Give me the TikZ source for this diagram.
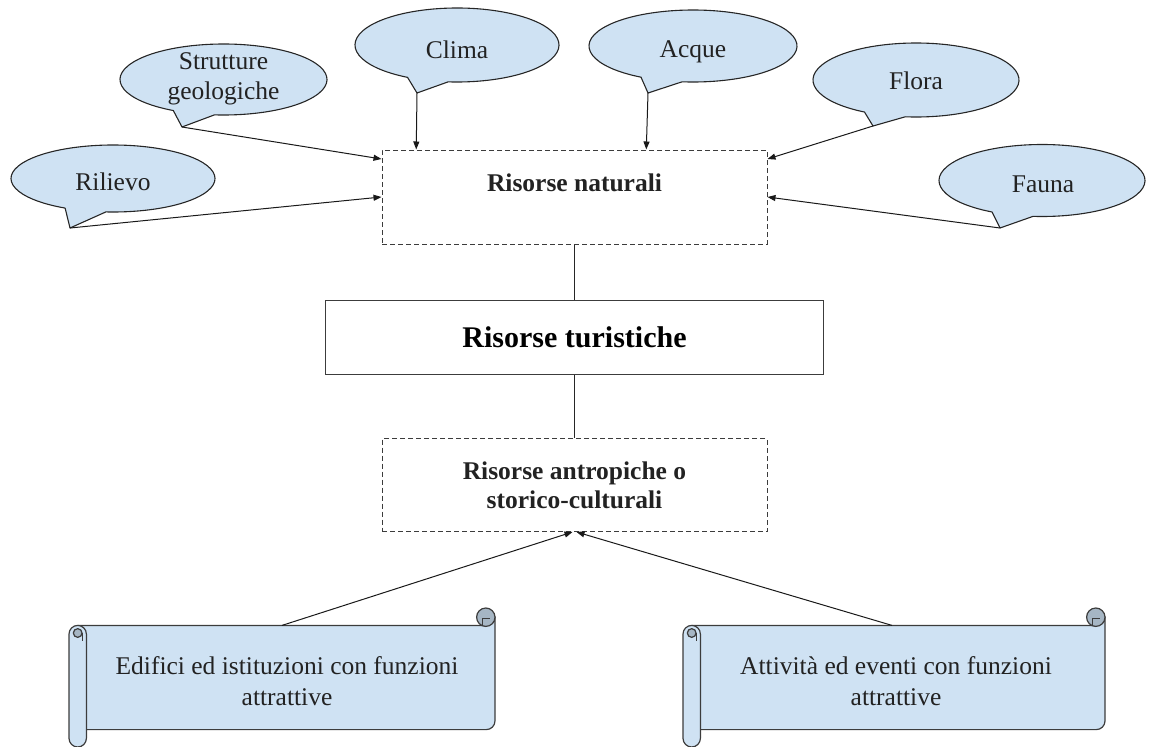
\documentclass[tikz,border=0pt]{standalone}
\usepackage{fontspec}
\setmainfont{Liberation Serif}
\usetikzlibrary{arrows.meta,calc}
\definecolor{calloutfill}{HTML}{CFE2F3}
\definecolor{rollfill}{HTML}{A6B6C4}
\definecolor{edge}{HTML}{3C3C3C}
\definecolor{ink}{HTML}{222222}

% speech bubble: centre x, centre y, x radius, y radius, pointer direction, tip coordinate
\newcommand\speechbubble[6]{%
  \filldraw[callout] (#1,#2) ++({#5+12}:#3 and #4)
    arc[start angle={#5+12}, end angle={#5+348}, x radius=#3, y radius=#4]
    -- (#6) -- cycle;}

% horizontal scroll: left, top, right, bottom
\newcommand\scrollshape[4]{%
  \filldraw[scrollbody] ({#1+8.7},{#2+17.4}) -- ({#3-8.7},{#2+17.4})
    arc[start angle=90, end angle=0, radius=8.7] -- (#3,{#4-26.1})
    arc[start angle=0, end angle=90, radius=8.7] -- ({#1+8.7},{#4-17.4}) -- cycle;
  \filldraw[scrollroll] ({#3-9.2},{#2+9.2}) circle[radius=9.2];
  \draw[draw=edge, line width=1pt] ({#3-12.5},{#2+17.4}) -- ({#3-12.5},{#2+10.5}) -- ({#3-5},{#2+10.5});
  \filldraw[scrollbody] (#1,{#2+26.1}) arc[start angle=180, end angle=360, radius=8.7]
    -- ({#1+17.4},{#4-8.7}) arc[start angle=0, end angle=180, radius=8.7] -- cycle;
  \filldraw[scrollroll] ({#1+8.7},{#2+25}) circle[radius=4.35];
  \draw[draw=edge, line width=1pt] ({#1+13},{#2+25}) -- ({#1+13},{#2+33});}

\begin{document}
\begin{tikzpicture}[x=1pt, y=-1pt,
  callout/.style={fill=calloutfill, draw=black!85, line width=1.1pt, line join=round},
  ctext/.style={text=ink, font=\fontsize{25.5}{30.5}\selectfont, align=center, inner sep=0pt},
  btext/.style={text=ink, font=\bfseries\fontsize{25.5}{29}\selectfont, align=center},
  dbox/.style={draw=edge, dash pattern=on 5pt off 3pt, line width=1pt,
    minimum width=385pt, inner sep=0pt},
  arr/.style={draw=black!90, line width=1pt, -{Triangle[length=8pt, width=6pt]}},
  link/.style={draw=black!85, line width=1pt},
  scrollbody/.style={fill=calloutfill, draw=edge, line width=1.2pt, line join=round},
  scrollroll/.style={fill=rollfill, draw=edge, line width=1.2pt}
]
\useasboundingbox (0,0) rectangle (1149,747);

% central boxes
\node[dbox, minimum height=94pt] (nat) at (574.5,197) {};
\node[btext, inner sep=0pt] (natlabel) at (574.5,183) {Risorse naturali};
\node[draw=edge, line width=1pt, minimum width=498pt, minimum height=74pt, inner sep=0pt,
  text=black, font=\bfseries\fontsize{30}{36}\selectfont] (tur) at (574.5,337) {Risorse turistiche};
\node[dbox, btext, minimum height=93pt] (ant) at (574.5,485) {Risorse antropiche o\\storico-culturali};

\draw[link] (nat.south) -- (tur.north);
\draw[link] (tur.south) -- (ant.north);

% natural resources as speech bubbles
\coordinate (rilievo-tip) at (70,228);
\coordinate (strutture-tip) at (182,127);
\coordinate (clima-tip) at (417,93);
\coordinate (acque-tip) at (648,93);
\coordinate (flora-tip) at (873,126);
\coordinate (fauna-tip) at (1000,228);

\speechbubble{113}{178.5}{102}{33.5}{106}{rilievo-tip}
\speechbubble{223.5}{79.5}{103.5}{35.5}{107}{strutture-tip}
\speechbubble{457}{45}{102}{37}{107}{clima-tip}
\speechbubble{693}{46}{104}{36}{108}{acque-tip}
\speechbubble{916}{80}{103}{37}{108}{flora-tip}
\speechbubble{1042}{180.5}{103}{36}{107}{fauna-tip}

\node[ctext] (rilievo) at (113,182) {Rilievo};
\node[ctext] (strutture) at (223.5,79) {Strutture\\geologiche};
\node[ctext] (clima) at (457,50) {Clima};
\node[ctext] (acque) at (693,52) {Acque};
\node[ctext] (flora) at (916,81) {Flora};
\node[ctext] (fauna) at (1043,184) {Fauna};

\draw[arr] (rilievo-tip) -- (nat.west);
\draw[arr] (strutture-tip) -- ($(nat.north west)!0.1!(nat.south west)$);
\draw[arr] (clima-tip) -- ($(nat.north west)!0.09!(nat.north east)$);
\draw[arr] (acque-tip) -- ($(nat.north west)!0.686!(nat.north east)$);
\draw[arr] (flora-tip) -- ($(nat.north east)!0.1!(nat.south east)$);
\draw[arr] (fauna-tip) -- (nat.east);

% anthropic resources as scrolls
\scrollshape{69}{608}{495}{747}
\scrollshape{683}{608}{1105}{747}
\node[ctext, font=\fontsize{25.5}{31}\selectfont] (edifici) at (287,681) {Edifici ed istituzioni con funzioni\\attrattive};
\node[ctext, font=\fontsize{25.5}{31}\selectfont] (attivita) at (896,681) {Attività ed eventi con funzioni\\attrattive};

\coordinate (edifici-top) at (282,625.4);
\coordinate (attivita-top) at (892,625.4);
\draw[arr] (edifici-top) -- ($(ant.south)+(-2,0)$);
\draw[arr] (attivita-top) -- ($(ant.south)+(2,0)$);
\end{tikzpicture}
\end{document}
